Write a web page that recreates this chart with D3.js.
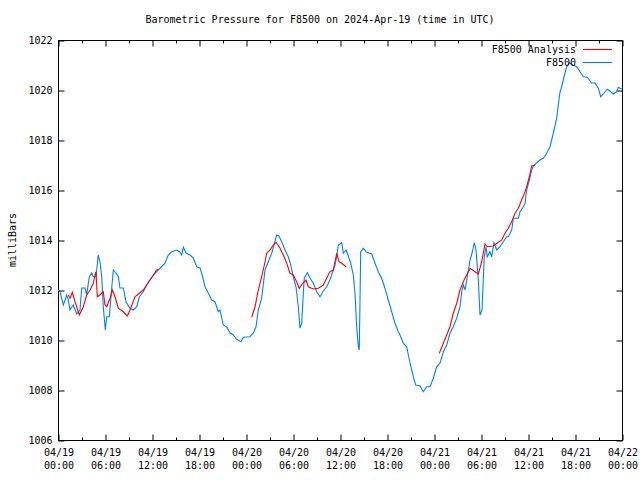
<!DOCTYPE html>
<html>
<head>
<meta charset="utf-8">
<script src="https://cdn.jsdelivr.net/npm/d3@7"></script>
<style>
  body { margin: 0; background: #fff; }
  text { font-family: "DejaVu Sans Mono", monospace; font-size: 10px; fill: #000; }
  .axis path, .axis line { stroke: #000; }
</style>
</head>
<body>
<div id="chart"></div>
<script>
// hours since 2024-04-19 00:00 UTC, and pressure in mb
var obsHours = [0, 0.26, 0.68, 1.11, 1.31, 1.53, 1.95, 2.39, 2.81, 3.03, 3.45, 3.66, 4.0, 4.3, 4.51, 4.85,
  5.14, 5.36, 5.58, 5.78, 6.04, 6.22, 6.55, 6.86, 7.06, 7.4, 7.7, 7.91, 8.34, 8.68, 9.19, 9.61, 10.05,
  10.38, 10.89, 11.32, 11.74, 12.38, 13.02, 13.66, 14.08, 14.51, 15.15, 15.57, 15.79, 16.0, 16.34, 16.85,
  17.27, 17.71, 18.13, 18.47, 18.77, 19.19, 19.62, 20.04, 20.46, 20.68, 21.1, 21.54, 21.96, 22.38, 22.81,
  23.36, 23.66, 24.51, 24.93, 25.28, 25.57, 26.0, 26.43, 26.85, 27.28, 27.57, 27.92, 28.21, 28.56, 28.98,
  29.4, 29.71, 30.04, 30.38, 30.68, 30.89, 31.11, 31.32, 31.44, 31.83, 32.17, 32.59, 33.03, 33.45, 33.87,
  34.3, 34.72, 35.07, 35.36, 35.58, 35.78, 36.22, 36.42, 36.77, 37.02, 37.37, 37.7, 37.91, 38.13, 38.34,
  38.46, 38.55, 38.64, 38.97, 39.41, 40.05, 40.47, 40.89, 41.32, 41.74, 42.17, 42.6, 43.02, 43.44, 43.66,
  44.08, 44.52, 44.94, 45.36, 45.66, 46.21, 46.63, 47.07, 47.49, 47.91, 48.34, 48.77, 49.19, 49.62, 50.04,
  50.46, 50.9, 51.32, 51.54, 51.74, 51.96, 52.25, 52.6, 52.85, 53.15, 53.36, 53.66, 53.87, 54.13, 54.29,
  54.42, 54.64, 54.8, 55.15, 55.36, 55.66, 56.0, 56.43, 56.85, 57.28, 57.49, 57.92, 58.13, 58.77, 58.98,
  59.4, 59.62, 59.83, 60.17, 60.47, 60.68, 61.11, 61.53, 61.95, 62.39, 62.81, 63.23, 63.66, 63.87, 64.09,
  64.3, 64.6, 64.94, 65.28, 65.71, 66.22, 66.64, 67.06, 67.57, 68.13, 68.55, 68.98, 69.28, 69.7, 70.13,
  70.56, 70.89, 71.32, 71.53, 71.74, 72.0];
var obsPressure = [1012.0, 1011.93, 1011.4, 1011.8, 1011.6, 1011.2, 1011.4, 1011.04, 1011.2, 1012.08, 1012.08,
  1011.8, 1012.53, 1012.68, 1012.53, 1012.53, 1013.4, 1013.13, 1012.53, 1011.33, 1010.4, 1010.93, 1010.93,
  1012.08, 1012.8, 1012.68, 1012.53, 1012.08, 1012.08, 1011.53, 1011.27, 1011.2, 1011.33, 1011.73, 1011.93,
  1012.2, 1012.4, 1012.67, 1012.87, 1013.07, 1013.4, 1013.53, 1013.6, 1013.52, 1013.4, 1013.71, 1013.48,
  1013.4, 1013.28, 1012.93, 1012.88, 1012.53, 1012.13, 1011.87, 1011.6, 1011.53, 1011.13, 1011.2, 1010.6,
  1010.52, 1010.29, 1010.2, 1010.03, 1009.93, 1010.11, 1010.13, 1010.27, 1010.53, 1011.2, 1011.67, 1012.8,
  1013.13, 1013.47, 1013.8, 1014.2, 1014.16, 1013.93, 1013.6, 1013.33, 1013.0, 1012.53, 1012.13, 1011.33,
  1010.47, 1010.68, 1011.87, 1012.47, 1012.69, 1012.48, 1012.27, 1011.93, 1011.73, 1011.96, 1012.13, 1012.4,
  1012.73, 1013.0, 1013.33, 1013.8, 1013.89, 1013.47, 1013.6, 1013.4, 1013.07, 1012.6, 1011.87, 1010.53,
  1009.73, 1009.6, 1011.47, 1013.53, 1013.67, 1013.51, 1013.44, 1013.07, 1012.73, 1012.47, 1012.07, 1011.6,
  1011.13, 1010.67, 1010.33, 1010.2, 1009.87, 1009.73, 1009.07, 1008.53, 1008.2, 1008.17, 1007.93, 1008.13,
  1008.13, 1008.47, 1008.93, 1009.07, 1009.53, 1009.8, 1010.27, 1010.53, 1010.87, 1011.33, 1011.93, 1012.2,
  1012.0, 1012.53, 1013.2, 1013.47, 1013.89, 1013.6, 1012.4, 1011.0, 1011.2, 1012.4, 1013.33, 1013.73,
  1013.33, 1013.53, 1013.33, 1013.89, 1013.6, 1013.73, 1013.93, 1014.13, 1014.13, 1014.4, 1014.87, 1014.87,
  1015.13, 1015.33, 1015.47, 1016.0, 1016.4, 1016.8, 1016.96, 1017.09, 1017.2, 1017.27, 1017.47, 1017.73,
  1018.27, 1018.87, 1019.4, 1019.93, 1020.13, 1020.53, 1020.93, 1021.09, 1021.0, 1020.93, 1020.73, 1020.53,
  1020.51, 1020.27, 1020.29, 1020.07, 1019.73, 1019.88, 1020.03, 1019.93, 1019.84, 1019.93, 1020.11,
  1020.07, 1020.04];

// analysis series, null marks a gap between runs
var anaHours = [1.31, 1.53, 1.83, 2.17, 2.72, 3.23, 3.66, 4.09, 4.51, 4.72, 4.85, 5.02, 5.36, 5.78, 6.0,
  6.22, 6.64, 6.93, 7.28, 7.7, 8.34, 8.85, 9.19, 9.83, 10.38, 10.89, 11.32, 11.74, 12.17, 12.6, 12.8,
  null,
  24.73, 25.15, 25.57, 26.0, 26.43, 26.64, 27.06, 27.49, 27.83, 28.25, 28.76, 29.2, 29.62, 30.04, 30.47,
  30.8, 31.24, 31.66, 31.95, 32.59, 33.23, 33.87, 34.3, 34.72, 35.15, 35.58, 35.87, 36.22, 36.77,
  null,
  48.68, 49.19, 49.62, 50.04, 50.46, 50.9, 51.32, 51.74, 52.17, 52.6, 53.23, 53.66, 54.09, 54.51, 54.8,
  55.57, 56.04, 56.64, 57.06, 57.49, 57.92, 58.34, 58.77, 59.19, 59.62, 59.83, 60.17, 60.47, 60.89];
var anaPressure = [1011.8, 1011.67, 1011.91, 1011.53, 1011.0, 1011.33, 1011.8, 1012.0, 1012.27, 1012.6,
  1012.73, 1011.73, 1011.8, 1011.93, 1011.4, 1011.33, 1011.67, 1012.0, 1011.73, 1011.27, 1011.13, 1010.96,
  1011.2, 1011.73, 1011.87, 1012.0, 1012.2, 1012.4, 1012.6, 1012.8, 1012.83,
  null,
  1010.91, 1011.33, 1012.0, 1012.53, 1013.13, 1013.47, 1013.6, 1013.8, 1013.91, 1013.73, 1013.4, 1013.07,
  1012.67, 1012.6, 1012.33, 1012.07, 1012.27, 1012.4, 1012.13, 1012.04, 1012.07, 1012.2, 1012.47, 1012.73,
  1012.8, 1013.47, 1013.13, 1013.07, 1012.93,
  null,
  1009.47, 1009.87, 1010.2, 1010.53, 1011.07, 1011.47, 1012.0, 1012.33, 1012.6, 1012.87, 1012.73, 1012.64,
  1013.13, 1013.84, 1013.73, 1013.76, 1013.87, 1014.0, 1014.27, 1014.47, 1014.73, 1015.07, 1015.27, 1015.6,
  1015.93, 1016.13, 1016.53, 1016.96, 1016.99];

var tickHours = [0, 6, 12, 18, 24, 30, 36, 42, 48, 54, 60, 66, 72];
var tickDays = ["04/19", "04/19", "04/19", "04/19", "04/20", "04/20", "04/20", "04/20", "04/21", "04/21", "04/21", "04/21", "04/22"];
var tickClock = ["00:00", "06:00", "12:00", "18:00", "00:00", "06:00", "12:00", "18:00", "00:00", "06:00", "12:00", "18:00", "00:00"];
var minorHours = [3, 9, 15, 21, 27, 33, 39, 45, 51, 57, 63, 69];
var yTicks = [1006, 1008, 1010, 1012, 1014, 1016, 1018, 1020, 1022];

var svgWidth = 640, svgHeight = 480;
var margin = { top: 40, right: 18, bottom: 40, left: 58 };
var width = svgWidth - margin.left - margin.right;
var height = svgHeight - margin.top - margin.bottom;

var svg = d3.select("#chart").append("svg")
  .attr("width", svgWidth)
  .attr("height", svgHeight);

var g = svg.append("g")
  .attr("transform", `translate(${margin.left}, ${margin.top})`);

var x = d3.scaleLinear().domain([0, 72]).range([0, width]);
var y = d3.scaleLinear().domain([1006, 1022]).range([height, 0]);

// frame
g.append("rect")
  .attr("x", 0.5).attr("y", 0.5)
  .attr("width", width).attr("height", height)
  .attr("fill", "none").attr("stroke", "#000");

// bottom axis, ticks pointing in
var bottom = g.append("g").attr("class", "axis")
  .attr("transform", `translate(0.5, ${height + 0.5})`)
  .call(d3.axisBottom(x).tickValues(tickHours).tickSizeInner(-6).tickSizeOuter(0).tickPadding(13)
    .tickFormat((d, i) => i));
bottom.select(".domain").remove();
bottom.selectAll("text").each(function(d, i) {
  var t = d3.select(this).text("");
  t.append("tspan").attr("x", 0).attr("dy", "0.2em").text(tickDays[i]);
  t.append("tspan").attr("x", 0).attr("dy", "1.3em").text(tickClock[i]);
});
g.append("g").attr("class", "axis")
  .attr("transform", `translate(0.5, ${height + 0.5})`)
  .call(d3.axisBottom(x).tickValues(minorHours).tickSizeInner(-3).tickSizeOuter(0).tickFormat(""))
  .select(".domain").remove();

// top axis
g.append("g").attr("class", "axis")
  .attr("transform", "translate(0.5, 0.5)")
  .call(d3.axisTop(x).tickValues(tickHours).tickSizeInner(-6).tickSizeOuter(0).tickFormat(""))
  .select(".domain").remove();
g.append("g").attr("class", "axis")
  .attr("transform", "translate(0.5, 0.5)")
  .call(d3.axisTop(x).tickValues(minorHours).tickSizeInner(-3).tickSizeOuter(0).tickFormat(""))
  .select(".domain").remove();

// left and right axes
var left = g.append("g").attr("class", "axis")
  .attr("transform", "translate(0.5, 0.5)")
  .call(d3.axisLeft(y).tickValues(yTicks).tickSizeInner(-6).tickSizeOuter(0).tickPadding(6)
    .tickFormat(d3.format("d")));
left.select(".domain").remove();
g.append("g").attr("class", "axis")
  .attr("transform", `translate(${width + 0.5}, 0.5)`)
  .call(d3.axisRight(y).tickValues(yTicks).tickSizeInner(-6).tickSizeOuter(0).tickFormat(""))
  .select(".domain").remove();
g.selectAll(".axis text").style("font-family", "DejaVu Sans Mono, monospace").style("font-size", "10px");

// lines
var obsLine = d3.line()
  .x((d, i) => x(obsHours[i]))
  .y(d => y(d));
var anaLine = d3.line()
  .defined(d => d != null)
  .x((d, i) => x(anaHours[i]))
  .y(d => y(d));

g.append("path")
  .attr("d", obsLine(obsPressure))
  .attr("fill", "none").attr("stroke", "#0080ff").attr("stroke-width", 1.1);
g.append("path")
  .attr("d", anaLine(anaPressure))
  .attr("fill", "none").attr("stroke", "#ff0000").attr("stroke-width", 1.1);

// legend
var legend = [{ name: "F8500 Analysis", color: "#ff0000" }, { name: "F8500", color: "#0080ff" }];
var lg = g.selectAll(".legend").data(legend).enter().append("g")
  .attr("transform", (d, i) => `translate(${width - 44}, ${9 + i * 13})`);
lg.append("text").attr("x", -2).attr("y", 4).attr("text-anchor", "end").text(d => d.name);
lg.append("line").attr("x1", 5).attr("x2", 34).attr("y1", 0.5).attr("y2", 0.5)
  .attr("stroke", d => d.color).attr("stroke-width", 1.1);

// title and y label
svg.append("text")
  .attr("x", svgWidth / 2).attr("y", 23)
  .attr("text-anchor", "middle")
  .text("Barometric Pressure for F8500 on 2024-Apr-19 (time in UTC)");
svg.append("text")
  .attr("transform", `translate(16, ${margin.top + height / 2}) rotate(-90)`)
  .attr("text-anchor", "middle")
  .text("milliBars");
</script>
</body>
</html>
